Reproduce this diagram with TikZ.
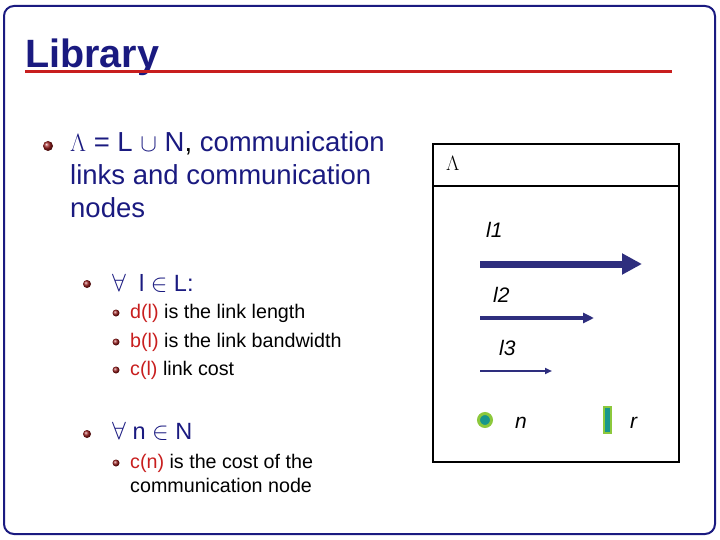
\documentclass[tikz,border=0pt]{standalone}
\usepackage{fontspec}
\setmainfont{Liberation Sans}
\usetikzlibrary{arrows.meta}
\definecolor{navy}{HTML}{1A1A80}
\definecolor{linkc}{HTML}{2E2E7E}
\definecolor{ballred}{HTML}{9A1E1E}
\definecolor{txtred}{HTML}{C81E1E}
\definecolor{grn}{HTML}{8CC83C}
\definecolor{teal}{HTML}{18968C}
\tikzset{
 ball/.style={circle,inner sep=0pt,shading=ball,ball color=ballred},
 txt/.style={anchor=base west,inner sep=0pt},
 big/.style={txt,text=navy,font=\fontsize{27.5}{30}\selectfont},
 mid/.style={txt,text=navy,font=\fontsize{23.5}{26}\selectfont},
 small/.style={txt,font=\fontsize{19.7}{22}\selectfont},
 lab/.style={anchor=base west,inner sep=0pt,font=\fontsize{21}{22}\selectfont\itshape},
 link/.style={draw=linkc}
}
\begin{document}
\begin{tikzpicture}[x=1pt,y=-1pt]
\useasboundingbox (0,0) rectangle (720,540);
\draw[navy,line width=2pt,rounded corners=10pt] (4,6) rectangle (715,534);
\node[txt,text=navy,font=\fontsize{39.5}{42}\bfseries\selectfont] (title) at (25,68) {Library};
\draw[txtred,line width=3pt] (25,72) -- (672,72);
% level 1
\node[ball,minimum size=10pt] (b1) at (48,146) {};
\node[big] (t1a) at (70,152) {$\Lambda$ = L $\cup$ N{\color{black},} communication};
\node[big] (t1b) at (70,185) {links and communication};
\node[big] (t1c) at (70,218) {nodes};
% level 2
\node[ball,minimum size=8pt] (b2) at (87,284) {};
\node[mid] (t2) at (112,291) {$\forall$\ \ l $\in$ L:};
\node[ball,minimum size=7pt] (b3) at (116,313) {};
\node[ball,minimum size=7pt] (b4) at (116,342) {};
\node[ball,minimum size=7pt] (b5) at (116,370) {};
\node[small] (t3a) at (130,318) {{\color{txtred}d(l)} is the link length};
\node[small] (t3b) at (130,347) {{\color{txtred}b(l)} is the link bandwidth};
\node[small] (t3c) at (130,375) {{\color{txtred}c(l)} link cost};
\node[ball,minimum size=8pt] (b6) at (87,434) {};
\node[mid] (t4) at (112,439) {$\forall$\ n $\in$ N};
\node[ball,minimum size=7pt] (b7) at (116,463) {};
\node[small] (t5a) at (130,468) {{\color{txtred}c(n)} is the cost of the};
\node[small] (t5b) at (130,492) {communication node};
% right box
\draw[line width=2.5pt] (433,144) rectangle (679,462);
\draw[line width=2.5pt] (433,186) -- (679,186);
\node[txt,font=\fontsize{22}{24}\selectfont] (lam) at (446,171) {$\Lambda$};
\node[lab] (l1) at (486,237) {l1};
\node[lab] (l2) at (493,302) {l2};
\node[lab] (l3) at (499,355) {l3};
\coordinate (a1s) at (480,264); \coordinate (a1e) at (642,264);
\coordinate (a2s) at (480,318); \coordinate (a2e) at (594,318);
\coordinate (a3s) at (480,371); \coordinate (a3e) at (552,371);
\draw[link,line width=7pt,-{Triangle[length=20pt,width=20pt]}] (a1s) -- (a1e);
\draw[link,line width=4pt,-{Triangle[length=11pt,width=10pt]}] (a2s) -- (a2e);
\draw[link,line width=2pt,-{Triangle[length=7pt,width=6pt]}] (a3s) -- (a3e);
\node[circle,fill=teal,draw=grn,line width=3pt,minimum size=13pt,inner sep=0pt] (nn) at (485,420) {};
\node[lab] (nl) at (515,428) {n};
\node[rectangle,fill=teal,draw=grn,line width=2pt,minimum width=7pt,minimum height=26pt,inner sep=0pt] (rr) at (607,420) {};
\node[lab] (rl) at (630,428) {r};
\end{tikzpicture}
\end{document}
